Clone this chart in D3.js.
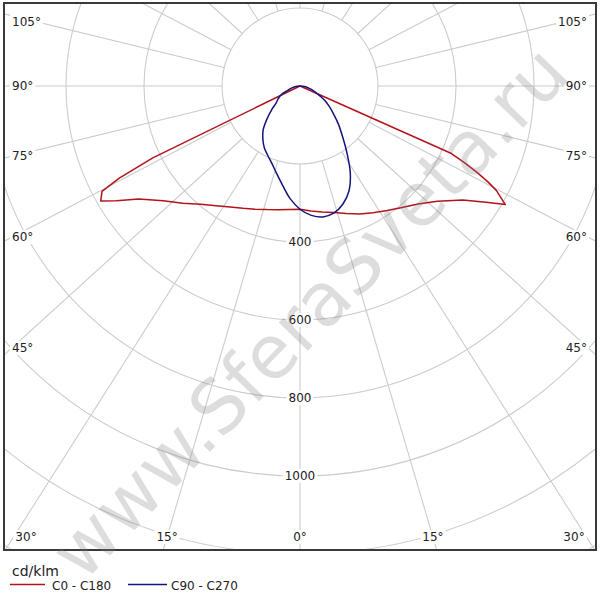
<!DOCTYPE html>
<html><head><meta charset="utf-8">
<script src="https://cdn.jsdelivr.net/npm/d3@7"></script>
<style>body{margin:0;background:#fff} svg{display:block}</style>
</head><body>
<script>
// gamma angles (deg from nadir) and intensities (cd/klm)
const gammaAngles = [0,5,10,15,20,25,30,35,40,45,50,55,58,60,62,63,64,65,66,68,70,75,80,85,90];
const c0   = [316,322,328,336,348,362,375,390,407,428,460,510,562,608,570,540,505,465,422,0,0,0,0,0,0];
const c180 = [316,318,322,328,336,346,358,375,396,425,458,505,555,590,575,520,420,0,0,0,0,0,0,0,0];
const c90  = [316,333,341,337,322,297,258,210,170,140,113,92,80,73,64,60,56,52,49,43,38,26,16,7,0];
const c270 = [316,290,258,232,211,196,183,166,147,120,95,74,68,64,60,58,55,52,50,42,34,24,15,7,0];
const ringValues = [200,400,600,800,1000,1200,1400];
const ringLabels = [400,600,800,1000];
const spokeAngles = d3.range(0,360,15);
const sideLabelAngles = [105,90,75,60,45];
const bottomLabelAngles = [30,15,0];
const seriesNames = ["C0 - C180","C90 - C270"];
const unitLabel = "cd/klm";
const watermark = "www.SferaSveta.ru";

const W=600,H=600;
const cx=300, cy=86;
const box={x0:4,y0:3,x1:596,y1:550};
const r = d3.scaleLinear().domain([0,1000]).range([0,390]);
const xStretch = 1.1; // spoke direction stretch seen in the grid
const colors = ["#b3141b","#14147d"];

const svg = d3.select("body").append("svg").attr("width",W).attr("height",H);
svg.append("defs").append("clipPath").attr("id","clip")
  .append("rect").attr("x",box.x0).attr("y",box.y0).attr("width",box.x1-box.x0).attr("height",box.y1-box.y0);

const g = svg.append("g").attr("clip-path","url(#clip)");
const grid = g.append("g").attr("stroke","#cccccc").attr("fill","none").attr("stroke-width",1.1);
grid.selectAll("circle").data(ringValues).join("circle")
  .attr("cx",cx).attr("cy",cy).attr("r",d=>r(d));

function dir(a){ // a in degrees from nadir, positive to the right
  const rad=a*Math.PI/180;
  const dx=xStretch*Math.sin(rad), dy=Math.cos(rad);
  const n=Math.hypot(dx,dy); return [dx/n,dy/n];
}
grid.selectAll("line").data(spokeAngles).join("line")
  .attr("x1",d=>cx+dir(d)[0]*r(200)).attr("y1",d=>cy+dir(d)[1]*r(200))
  .attr("x2",d=>cx+dir(d)[0]*r(2000)).attr("y2",d=>cy+dir(d)[1]*r(2000));

// curves
function pts(right,left){
  const p=[];
  gammaAngles.forEach((a,i)=>p.push([Math.PI-a*Math.PI/180, r(right[i])]));
  for(let i=gammaAngles.length-2;i>=1;i--) p.push([Math.PI+gammaAngles[i]*Math.PI/180, r(left[i])]);
  return p;
}
const cg = g.append("g").attr("transform",`translate(${cx},${cy})`).attr("fill","none").attr("stroke-width",1.5);
cg.append("path").attr("d",d3.lineRadial().curve(d3.curveLinearClosed)(pts(c0,c180))).attr("stroke",colors[0]).attr("stroke-linejoin","round");
cg.append("path").attr("d",d3.lineRadial().curve(d3.curveCatmullRomClosed.alpha(0.5))(pts(c90,c270))).attr("stroke",colors[1]);

// labels with white background
const font="DejaVu Sans";
function label(x,y,txt,anchor){
  const gg=svg.append("g");
  const t=gg.append("text").attr("x",x).attr("y",y).attr("text-anchor",anchor)
    .attr("dominant-baseline","central").attr("font-family",font).attr("font-size",12).attr("fill","#222").text(txt);
  const b=t.node().getBBox();
  gg.insert("rect","text").attr("x",b.x-2).attr("y",b.y).attr("width",b.width+4).attr("height",b.height).attr("fill","#fff");
}
ringLabels.forEach(v=>label(cx,cy+r(v),v,"middle"));
const inset=12, bottomY=537;
sideLabelAngles.forEach(a=>{
  const d=dir(a);
  let y=cy+(cx-inset)*d[1]/d[0];
  y=Math.max(22,y);
  label(inset,y,a+"°","start");
  label(W-inset-1,y,a+"°","end");
});
bottomLabelAngles.forEach(a=>{
  const d=dir(a);
  let dx=(bottomY-cy)*d[0]/d[1];
  if(a===0){label(cx,bottomY,a+"°","middle");return;}
  dx=Math.min(dx,cx-inset-14);
  label(cx-dx,bottomY,a+"°","middle");
  label(cx+dx,bottomY,a+"°","middle");
});

// border
svg.append("rect").attr("x",box.x0).attr("y",box.y0).attr("width",box.x1-box.x0).attr("height",box.y1-box.y0)
  .attr("fill","none").attr("stroke","#3a3a3a").attr("stroke-width",2);

// legend
svg.append("text").attr("x",12).attr("y",576).attr("font-family",font).attr("font-size",14).attr("fill","#222").text(unitLabel);
const lg=[{x:10,x2:45,tx:52},{x:128,x2:167,tx:171}];
seriesNames.forEach((s,i)=>{
  svg.append("line").attr("x1",lg[i].x).attr("x2",lg[i].x2).attr("y1",584.5).attr("y2",584.5).attr("stroke",colors[i]).attr("stroke-width",1.3);
  svg.append("text").attr("x",lg[i].tx).attr("y",590).attr("font-family",font).attr("font-size",12).attr("fill","#222").text(s);
});

// watermark
svg.append("text").attr("transform","translate(309,312) rotate(-46)").attr("text-anchor","middle")
  .attr("dominant-baseline","central").attr("font-family",font).attr("font-size",74)
  .attr("fill","#808080").attr("fill-opacity",0.27).text(watermark);
</script>
</body></html>
